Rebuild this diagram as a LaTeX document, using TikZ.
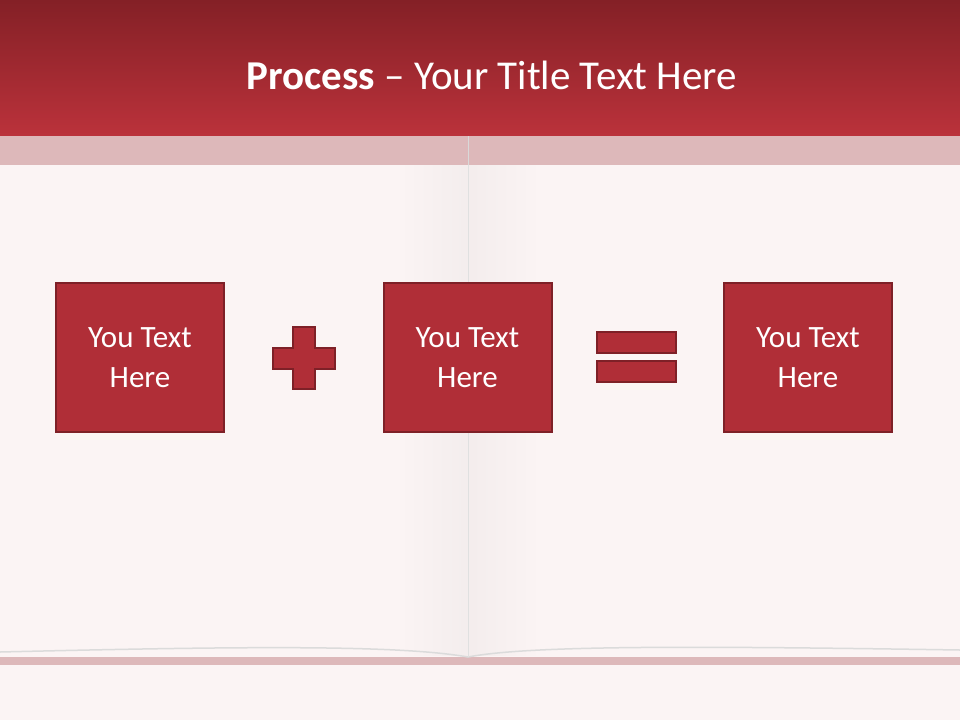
\documentclass[tikz,border=0pt]{standalone}
\usepackage{fontspec}
\setmainfont{Carlito}
\definecolor{headtop}{HTML}{842026}
\definecolor{headbot}{HTML}{BB323B}
\definecolor{bandpink}{HTML}{DDB8BA}
\definecolor{paper}{HTML}{FBF4F4}
\definecolor{boxred}{HTML}{B02E37}
\definecolor{boxline}{HTML}{7E2027}
\begin{document}
\begin{tikzpicture}[
    x=1pt, y=-1pt,
    box/.style={rectangle, draw=boxline, fill=boxred, line width=2pt,
        minimum width=168pt, minimum height=149pt, text=white, align=center,
        font=\fontsize{31}{40}\selectfont},
    sign/.style={draw=boxline, fill=boxred, line width=2pt}
]
\useasboundingbox (0,0) rectangle (960,720);
% Hintergrund und Buch
\fill[paper] (0,0) rectangle (960,720);
\fill[left color=paper, right color=black!3!paper] (400,165) rectangle (468,655);
\fill[left color=black!3!paper, right color=paper] (468,165) rectangle (540,655);
\fill[bandpink] (0,657) -- (960,657) -- (960,665) -- (0,665) -- cycle;
\draw[black!14, line width=1.5pt] (0,652) .. controls (250,646) and (400,645) .. (468,657)
    .. controls (530,645) and (700,646) .. (960,650);
\draw[black!12, line width=1pt] (468,136) -- (468,657);
% Kopfzeile
\shade[top color=headtop, bottom color=headbot] (0,0) rectangle (960,136);
\fill[bandpink] (0,136) rectangle (960,165);
\draw[black!15] (468,136) -- (468,165);
\node[text=white, font=\fontsize{41}{48}\selectfont] (title) at (492,75)
    {\textbf{Process} – Your Title Text Here};
% Kästen
\node[box] (first) at (140,357.5) {You Text\\Here};
\node[box] (second) at (467.5,357.5) {You Text\\Here};
\node[box] (result) at (808,357.5) {You Text\\Here};
% Zeichen
\draw[sign] (293,327) -- (315,327) -- (315,348) -- (335,348) -- (335,369) -- (315,369)
    -- (315,389) -- (293,389) -- (293,369) -- (273,369) -- (273,348) -- (293,348) -- cycle;
\draw[sign] (597,332) rectangle (676,353);
\draw[sign] (597,361) rectangle (676,382);
\end{tikzpicture}
\end{document}
